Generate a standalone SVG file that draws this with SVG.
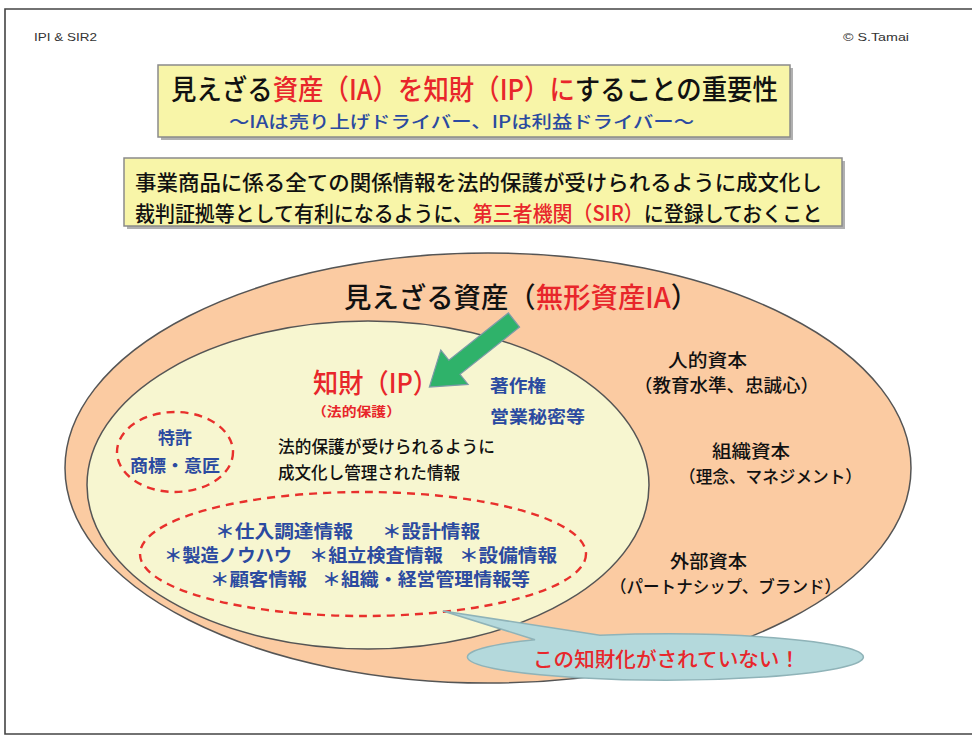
<svg xmlns="http://www.w3.org/2000/svg" width="972" height="738" viewBox="0 0 972 738">
<style>
.jp{font-family:"Noto Sans CJK JP","Noto Sans CJK SC",sans-serif;}
.lat{font-family:"Liberation Sans",Arial,sans-serif;}
.red{fill:#e8262b;}
.blue{fill:#2b4aa0;}
.blk{fill:#111;}
.box{fill:#f8f5a8;stroke:#8a8a8a;stroke-width:1.5;}
.shadow{fill:#b0b0b0;}
.dash{fill:none;stroke:#e8302c;stroke-width:2.4;stroke-dasharray:8 6;}
.b{font-weight:bold;}
.m{font-weight:500;}
</style>
<rect x="0" y="0" width="972" height="738" fill="#fff"/>
<path d="M980 9 H5 V734 H980" fill="none" stroke="#444" stroke-width="1.6"/>
<g id="header">
<text class="lat" x="34" y="41" font-size="11" fill="#333" textLength="63" lengthAdjust="spacingAndGlyphs">IPI &amp; SIR2</text>
<text class="lat" x="843" y="41" font-size="11" fill="#333" textLength="66" lengthAdjust="spacingAndGlyphs">© S.Tamai</text>
</g>
<g id="title">
<rect class="shadow" x="161" y="68" width="632" height="72"/>
<rect class="box" x="158" y="65" width="632" height="72"/>
<text class="jp m blk" transform="translate(171,100) scale(0.908,1)" font-size="28">見えざる<tspan class="red">資産（IA）を知財（IP）に</tspan>することの重要性</text>
<text class="jp blue m" x="229" y="128" font-size="17" textLength="465" lengthAdjust="spacingAndGlyphs">～IAは売り上げドライバー、IPは利益ドライバー～</text>
</g>
<g id="summary">
<rect class="shadow" x="127" y="161" width="718" height="68"/>
<rect class="box" x="124" y="158" width="718" height="68"/>
<text class="jp blk m" x="135" y="190" font-size="21" textLength="687" lengthAdjust="spacingAndGlyphs">事業商品に係る全ての関係情報を法的保護が受けられるように成文化し</text>
<text class="jp m blk" transform="translate(135,221) scale(0.9505,1)" font-size="21">裁判証拠等として有利になるように、<tspan class="red">第三者機関（SIR）</tspan>に登録しておくこと</text>
</g>
<g id="intangible-assets">
<ellipse cx="488" cy="468" rx="423" ry="215" fill="#fbcba2" stroke="#555" stroke-width="1.5"/>
<text class="jp m blk" transform="translate(344,308) scale(0.979,1)" font-size="28">見えざる資産（<tspan class="red">無形資産IA</tspan>）</text>
</g>
<g id="ip">
<ellipse cx="368" cy="485" rx="281" ry="164" fill="#f7f6d0" stroke="#555" stroke-width="1.5"/>
<text class="jp red m" x="313" y="393" font-size="27" textLength="125" lengthAdjust="spacingAndGlyphs">知財（IP）</text>
<text class="jp red b" x="312" y="416" font-size="13" textLength="89" lengthAdjust="spacingAndGlyphs">（法的保護）</text>
<text class="jp blue b" x="490" y="392" font-size="17" textLength="56" lengthAdjust="spacingAndGlyphs">著作権</text>
<text class="jp blue b" x="490" y="423" font-size="17" textLength="95" lengthAdjust="spacingAndGlyphs">営業秘密等</text>
<text class="jp blk m" x="278" y="453" font-size="17" textLength="217" lengthAdjust="spacingAndGlyphs">法的保護が受けられるように</text>
<text class="jp blk m" x="278" y="479" font-size="17" textLength="182" lengthAdjust="spacingAndGlyphs">成文化し管理された情報</text>
</g>
<g id="registered-ip">
<ellipse class="dash" cx="175" cy="452" rx="58" ry="40"/>
<text class="jp blue b" x="175" y="444" font-size="17" text-anchor="middle">特許</text>
<text class="jp blue b" x="175" y="472" font-size="17" text-anchor="middle" textLength="90" lengthAdjust="spacingAndGlyphs">商標・意匠</text>
</g>
<g id="unprotected-info">
<ellipse class="dash" cx="363" cy="554" rx="223" ry="62"/>
<text class="jp blue b" font-size="18" x="215" y="538" textLength="138" lengthAdjust="spacingAndGlyphs">＊仕入調達情報</text>
<text class="jp blue b" font-size="18" x="382" y="538" textLength="98" lengthAdjust="spacingAndGlyphs">＊設計情報</text>
<text class="jp blue b" font-size="18" x="164" y="562" textLength="128" lengthAdjust="spacingAndGlyphs">＊製造ノウハウ</text>
<text class="jp blue b" font-size="18" x="309" y="562" textLength="134" lengthAdjust="spacingAndGlyphs">＊組立検査情報</text>
<text class="jp blue b" font-size="18" x="459" y="562" textLength="98" lengthAdjust="spacingAndGlyphs">＊設備情報</text>
<text class="jp blue b" font-size="18" x="210" y="586" textLength="97" lengthAdjust="spacingAndGlyphs">＊顧客情報</text>
<text class="jp blue b" font-size="18" x="322" y="586" textLength="208" lengthAdjust="spacingAndGlyphs">＊組織・経営管理情報等</text>
</g>
<g id="human-capital">
<text class="jp blk m" x="668" y="367" font-size="18.5" textLength="79" lengthAdjust="spacingAndGlyphs">人的資本</text>
<text class="jp blk m" x="634" y="392" font-size="18" textLength="185" lengthAdjust="spacingAndGlyphs">（教育水準、忠誠心）</text>
</g>
<g id="structural-capital">
<text class="jp blk m" x="712" y="458" font-size="18.5" textLength="78" lengthAdjust="spacingAndGlyphs">組織資本</text>
<text class="jp blk m" x="679" y="483" font-size="17" textLength="183" lengthAdjust="spacingAndGlyphs">（理念、マネジメント）</text>
</g>
<g id="external-capital">
<text class="jp blk m" x="670" y="568" font-size="18.5" textLength="77" lengthAdjust="spacingAndGlyphs">外部資本</text>
<text class="jp blk m" x="610" y="593" font-size="17" textLength="231" lengthAdjust="spacingAndGlyphs">（パートナシップ、ブランド）</text>
</g>
<g id="callout">
<path d="M443 611 L600 635.3 A198 23 0 1 1 535 639.7 Z" fill="#b4d9dc" stroke="#8fb3b8" stroke-width="1.5"/>
<text class="jp red m" x="533" y="667" font-size="20" textLength="267" lengthAdjust="spacingAndGlyphs">この知財化がされていない！</text>
</g>
<g id="connectors">
<path transform="translate(514,320) rotate(141.6)" d="M0 -9 L76 -9 L76 -22 L108 0 L76 22 L76 9 L0 9 Z" fill="#2fb26a" stroke="#7d9aa8" stroke-width="1.2"/>
</g>
</svg>
